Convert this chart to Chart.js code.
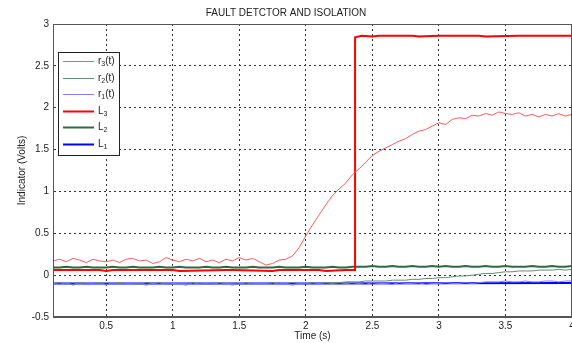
<!DOCTYPE html>
<html>
<head>
<meta charset="utf-8">
<script src="https://cdn.jsdelivr.net/npm/chart.js@4.4.0/dist/chart.umd.min.js"></script>
<style>
  html, body { margin: 0; padding: 0; background: #fff; }
</style>
</head>
<body>
<canvas id="faultChart" width="572" height="343"></canvas>
<script>
// sample times (s)
const times = [
  0.10,0.15,0.20,0.25,0.30,0.35,0.40,0.45,0.50,0.55,
  0.60,0.65,0.70,0.75,0.80,0.85,0.90,0.95,1.00,1.05,
  1.10,1.15,1.20,1.25,1.30,1.35,1.40,1.45,1.50,1.55,
  1.60,1.65,1.70,1.75,1.80,1.85,1.90,1.95,2.00,2.05,
  2.10,2.15,2.20,2.25,2.30,2.35,2.40,2.45,2.50,2.55,
  2.60,2.65,2.70,2.75,2.80,2.85,2.90,2.95,3.00,3.05,
  3.10,3.15,3.20,3.25,3.30,3.35,3.40,3.45,3.50,3.55,
  3.60,3.65,3.70,3.75,3.80,3.85,3.90,3.95,4.00
];

// residuals
const r3Vals = [
  0.17,0.19,0.16,0.20,0.18,0.15,0.19,0.17,0.16,0.18,
  0.15,0.19,0.20,0.17,0.18,0.14,0.16,0.21,0.18,0.16,
  0.19,0.17,0.20,0.16,0.18,0.15,0.19,0.17,0.21,0.18,
  0.20,0.16,0.12,0.14,0.18,0.19,0.23,0.33,0.47,0.60,
  0.72,0.84,0.95,1.03,1.10,1.20,1.27,1.35,1.43,1.48,
  1.52,1.56,1.60,1.63,1.68,1.72,1.74,1.78,1.82,1.80,
  1.86,1.88,1.87,1.91,1.90,1.93,1.91,1.95,1.93,1.92,
  1.94,1.90,1.92,1.89,1.92,1.90,1.93,1.90,1.92
];
const r2Vals = [
  -0.10,-0.09,-0.10,-0.11,-0.09,-0.10,-0.10,-0.09,-0.11,-0.10,
  -0.09,-0.10,-0.10,-0.11,-0.09,-0.10,-0.09,-0.10,-0.11,-0.10,
  -0.10,-0.09,-0.10,-0.11,-0.10,-0.09,-0.10,-0.10,-0.11,-0.09,
  -0.10,-0.10,-0.10,-0.09,-0.10,-0.10,-0.09,-0.10,-0.10,-0.09,
  -0.10,-0.09,-0.09,-0.09,-0.08,-0.08,-0.08,-0.07,-0.07,-0.07,
  -0.07,-0.06,-0.06,-0.06,-0.05,-0.05,-0.04,-0.04,-0.03,-0.03,
  -0.02,-0.01,-0.01,0.00,0.01,0.02,0.02,0.03,0.04,0.04,
  0.05,0.05,0.05,0.06,0.06,0.06,0.07,0.06,0.07
];
const r1Vals = [
  -0.10,-0.11,-0.09,-0.12,-0.10,-0.09,-0.11,-0.10,-0.12,-0.09,
  -0.10,-0.11,-0.09,-0.10,-0.12,-0.10,-0.09,-0.11,-0.10,-0.10,
  -0.12,-0.09,-0.11,-0.10,-0.09,-0.11,-0.10,-0.12,-0.10,-0.09,
  -0.11,-0.10,-0.10,-0.11,-0.09,-0.10,-0.12,-0.10,-0.09,-0.11,
  -0.10,-0.09,-0.10,-0.11,-0.10,-0.09,-0.10,-0.11,-0.09,-0.10,
  -0.10,-0.11,-0.09,-0.10,-0.10,-0.09,-0.11,-0.10,-0.10,-0.09,
  -0.10,-0.10,-0.09,-0.10,-0.09,-0.08,-0.08,-0.08,-0.07,-0.08,
  -0.08,-0.07,-0.08,-0.08,-0.07,-0.07,-0.08,-0.07,-0.07
];

// isolation levels
const l2Vals = [
  0.09,0.09,0.10,0.09,0.09,0.10,0.09,0.09,0.09,0.10,
  0.09,0.09,0.10,0.09,0.09,0.09,0.10,0.09,0.09,0.10,
  0.09,0.09,0.09,0.10,0.09,0.09,0.10,0.09,0.09,0.09,
  0.10,0.09,0.09,0.09,0.10,0.09,0.09,0.09,0.10,0.09,
  0.09,0.09,0.10,0.09,0.09,0.10,0.10,0.10,0.11,0.10,
  0.10,0.11,0.10,0.10,0.11,0.10,0.10,0.11,0.10,0.11,
  0.10,0.10,0.11,0.10,0.10,0.11,0.10,0.10,0.11,0.10,
  0.10,0.10,0.11,0.10,0.10,0.11,0.10,0.10,0.11
];
const l3Times = [0.10,0.45,0.50,0.55,1.00,1.05,1.40,1.45,1.75,1.80,2.10,2.15,2.30,2.37,2.37,2.42,2.50,2.55,2.80,2.85,3.00,3.30,3.35,3.60,4.00];
const l3Vals  = [0.06,0.06,0.05,0.06,0.06,0.05,0.06,0.06,0.05,0.06,0.06,0.05,0.06,0.06,2.84,2.86,2.85,2.86,2.86,2.85,2.86,2.86,2.85,2.86,2.86];
const l1Times = [0.10,2.00,4.00];
const l1Vals  = [-0.10,-0.10,-0.095];

const xTicks = [0.5, 1, 1.5, 2, 2.5, 3, 3.5, 4];
const yTicks = [-0.5, 0, 0.5, 1, 1.5, 2, 2.5, 3];
const seriesNames = ['r_3(t)', 'r_2(t)', 'r_1(t)', 'L_3', 'L_2', 'L_1'];

const FONT = "'Liberation Sans', Arial, Helvetica, sans-serif";

function toPoints(xs, ys) {
  return xs.map((x, i) => ({ x, y: ys[i] }));
}

function line(label, xs, ys, color, width) {
  return {
    label,
    data: toPoints(xs, ys),
    borderColor: color,
    backgroundColor: color,
    borderWidth: width,
    pointRadius: 0,
    tension: 0,
    fill: false
  };
}

// box round the plot area, like matlab
const frame = {
  id: 'frame',
  afterDatasetsDraw(chart) {
    const { ctx, chartArea: a } = chart;
    ctx.save();
    ctx.strokeStyle = '#555';
    ctx.lineWidth = 1;
    ctx.strokeRect(a.left + 0.5, a.top + 0.5, a.right - a.left - 1, a.bottom - a.top - 1);
    ctx.restore();
  }
};

// legend inside the axes, with subscripts
const insetLegend = {
  id: 'insetLegend',
  afterDraw(chart) {
    const { ctx, chartArea: a } = chart;
    const x0 = a.left + 5, y0 = a.top + 28, w = 61, h = 103;
    ctx.save();
    ctx.fillStyle = '#fff';
    ctx.fillRect(x0, y0, w, h);
    ctx.strokeStyle = '#222';
    ctx.lineWidth = 1;
    ctx.strokeRect(x0 + 0.5, y0 + 0.5, w, h);
    chart.data.datasets.forEach((ds, i) => {
      const y = Math.round(y0 + 9 + i * 16.6) + 0.5;
      ctx.strokeStyle = ds.borderColor;
      ctx.lineWidth = ds.borderWidth;
      ctx.beginPath();
      ctx.moveTo(x0 + 5, y);
      ctx.lineTo(x0 + 36, y);
      ctx.stroke();

      const m = ds.label.match(/^(\w)_(\d)(.*)$/);
      let tx = x0 + 40;
      ctx.fillStyle = '#222';
      ctx.textBaseline = 'middle';
      ctx.font = '10px ' + FONT;
      ctx.fillText(m[1], tx, y);
      tx += ctx.measureText(m[1]).width;
      ctx.font = '7px ' + FONT;
      ctx.fillText(m[2], tx, y + 3);
      tx += ctx.measureText(m[2]).width;
      ctx.font = '10px ' + FONT;
      ctx.fillText(m[3], tx, y);
    });
    ctx.restore();
  }
};

new Chart(document.getElementById('faultChart'), {
  type: 'line',
  data: {
    datasets: [
      line(seriesNames[0], times, r3Vals, '#ff5a5a', 1),
      line(seriesNames[1], times, r2Vals, '#5f8f6f', 1),
      line(seriesNames[2], times, r1Vals, '#8080ff', 1),
      line(seriesNames[3], l3Times, l3Vals, '#ff0000', 2),
      line(seriesNames[4], times, l2Vals, '#2f6a45', 2),
      line(seriesNames[5], l1Times, l1Vals, '#0000ff', 2)
    ]
  },
  options: {
    responsive: false,
    animation: false,
    layout: { padding: { left: 0, right: 0, top: 0, bottom: 0 } },
    plugins: {
      legend: { display: false },
      tooltip: { enabled: false },
      title: {
        display: true,
        text: 'FAULT DETCTOR AND ISOLATION',
        color: '#222',
        font: { family: FONT, size: 10, weight: 'normal' },
        padding: { top: 7, bottom: 5 }
      }
    },
    scales: {
      x: {
        type: 'linear',
        min: 0.1,
        max: 4,
        afterBuildTicks: s => { s.ticks = xTicks.map(v => ({ value: v })); },
        afterFit: s => { s.height = 26; s.paddingLeft = 0; s.paddingRight = 0; },
        ticks: {
          color: '#222',
          padding: 3,
          font: { family: FONT, size: 10 },
          maxRotation: 0,
          callback: v => String(v)
        },
        grid: { color: '#333', drawTicks: false },
        border: { color: '#555', dash: [2, 3] },
        title: {
          display: true,
          text: 'Time (s)',
          color: '#222',
          font: { family: FONT, size: 10 },
          padding: { top: 0, bottom: 1 }
        }
      },
      y: {
        min: -0.5,
        max: 3,
        afterBuildTicks: s => { s.ticks = yTicks.map(v => ({ value: v })); },
        afterFit: s => { s.width = 53; s.paddingTop = 0; s.paddingBottom = 0; },
        ticks: {
          color: '#222',
          padding: 4,
          font: { family: FONT, size: 10 },
          callback: v => String(v)
        },
        grid: { color: '#333', drawTicks: false },
        border: { color: '#555', dash: [2, 3] },
        title: {
          display: true,
          text: 'Indicator (Volts)',
          color: '#222',
          font: { family: FONT, size: 10 },
          padding: { top: 16, bottom: 0 }
        }
      }
    }
  },
  plugins: [frame, insetLegend]
});
</script>
</body>
</html>
